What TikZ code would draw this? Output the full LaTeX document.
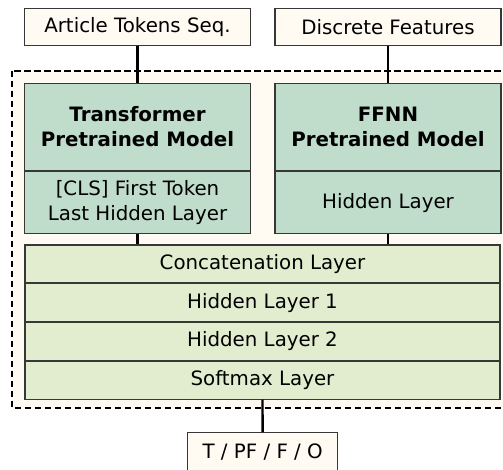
\documentclass[tikz,border=0pt]{standalone}
\usepackage{fontspec}
\setmainfont{DejaVu Sans}
\usetikzlibrary{positioning}
\definecolor{mycream}{RGB}{255,251,243}
\definecolor{mygreen}{RGB}{192,220,203}
\definecolor{mylight}{RGB}{226,237,207}
\definecolor{myborder}{RGB}{55,55,55}

\begin{document}
\begin{tikzpicture}[x=1pt,y=-1pt,
  font=\fontsize{19.8}{25}\selectfont,
  inbox/.style={draw=myborder,line width=1.1pt,fill=mycream,minimum width=226pt,minimum height=37pt,inner sep=0pt},
  modelbox/.style={draw=myborder,line width=1.1pt,fill=mygreen,minimum width=226pt,inner sep=0pt,align=center},
  layer/.style={draw=myborder,line width=1.1pt,fill=mylight,minimum width=475pt,minimum height=37.7pt,inner sep=0pt},
  conn/.style={line width=2.3pt},
  node distance=0pt
]
\useasboundingbox (0,0) rectangle (503,470);

% the dashed frame round the model
\draw[line width=2pt,dash pattern=on 6.5pt off 3.5pt,fill=mycream] (12,70.7) rectangle (514,408);

% the inputs
\node[inbox] (art) at (137.5,26.7) {Article Tokens Seq.};
\node[inbox] (disc) at (388,26.7) {Discrete Features};

% the pretrained models
\node[modelbox,minimum height=87.4pt] (trans) at (137.5,127) {\textbf{Transformer}\\\textbf{Pretrained Model}};
\node[modelbox,minimum height=61.6pt,below=of trans] (tcls) {[CLS] First Token\\Last Hidden Layer};
\node[modelbox,minimum height=87.4pt] (ffnn) at (388,127) {\textbf{FFNN}\\\textbf{Pretrained Model}};
\node[modelbox,minimum height=61.6pt,below=of ffnn] (fhid) {Hidden Layer};

% the layers on top
\node[layer] (concat) at (262.5,263.85) {Concatenation Layer};
\node[layer,below=of concat] (hid1) {Hidden Layer 1};
\node[layer,below=of hid1] (hid2) {Hidden Layer 2};
\node[layer,below=of hid2] (soft) {Softmax Layer};

% the output
\node[inbox,minimum width=150pt,minimum height=38pt] (out) at (262.7,451.7) {T / PF / F / O};

% the edges
\draw[conn] (art) -- (trans);
\draw[conn] (disc) -- (ffnn);
\draw[conn] (tcls) -- (tcls.south |- concat.north);
\draw[conn] (fhid) -- (fhid.south |- concat.north);
\draw[conn] (soft) -- (out);
\end{tikzpicture}
\end{document}
